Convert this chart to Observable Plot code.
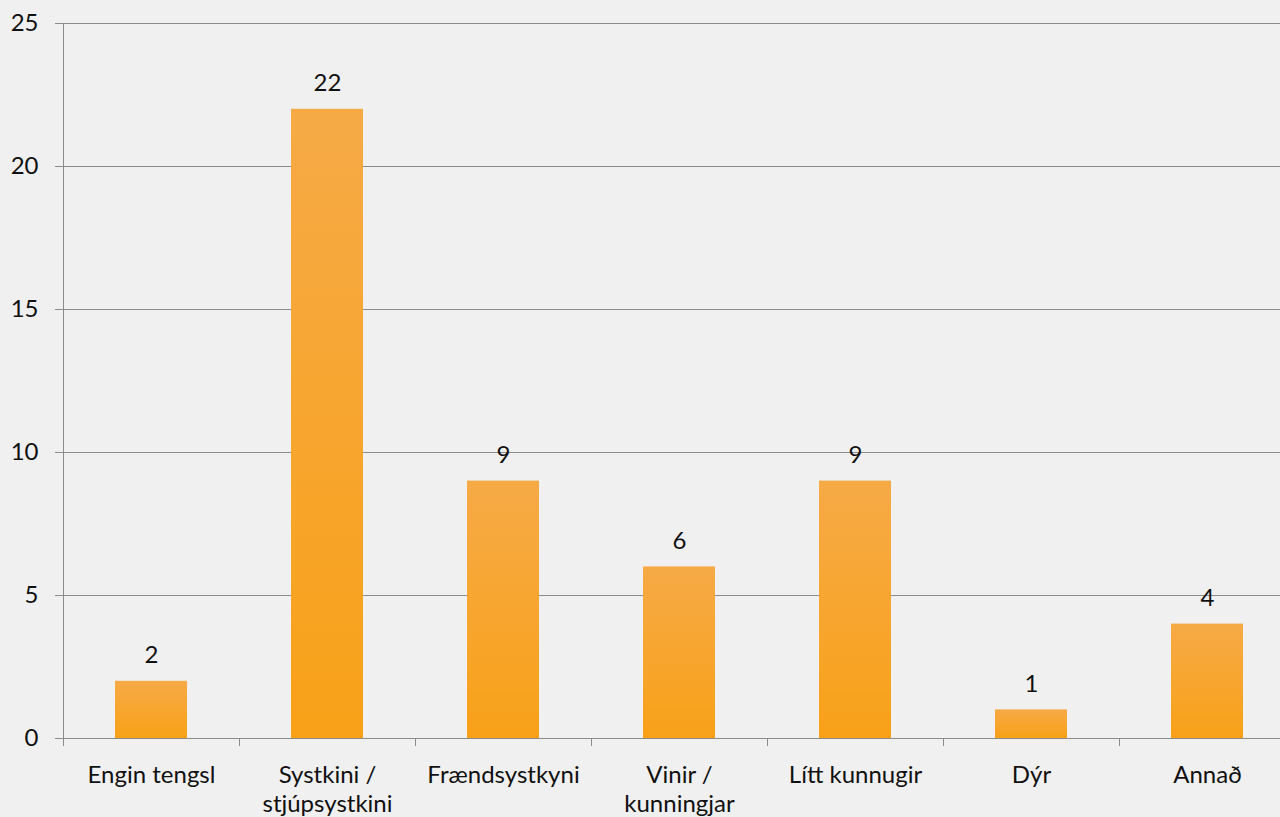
<!DOCTYPE html>
<html><head><meta charset="utf-8">
<script src="https://cdn.jsdelivr.net/npm/d3@7"></script>
<script src="https://cdn.jsdelivr.net/npm/@observablehq/plot@0.6"></script>
<style>
html,body{margin:0;padding:0;background:#f0f0f0;}
#chart svg{display:block;}
</style>
</head><body><div id="chart"></div>
<script>
const categories = ["Engin tengsl","Systkini / stjúpsystkini","Frændsystkyni","Vinir / kunningjar","Lítt kunnugir","Dýr","Annað"];
const tickLabels = ["Engin tengsl","Systkini /\nstjúpsystkini","Frændsystkyni","Vinir /\nkunningjar","Lítt kunnugir","Dýr","Annað"];
const values = [2,22,9,6,9,1,4];
const yTicks = [0,5,10,15,20,25];

const data = categories.map((c,i)=>({category:c, value:values[i]}));
const labelOf = new Map(categories.map((c,i)=>[c, tickLabels[i]]));
const lineColor = "#8c8c8c";
const font = "Lato, 'Open Sans', sans-serif";

function frameLines(index, scales) {
  const x = scales.x, y = scales.y;
  const step = x.step ? x.step() : (x(categories[1]) - x(categories[0]));
  const bw = x.bandwidth ? x.bandwidth() : 0;
  const half = (step - bw) / 2;
  const y0 = y(0), yTop = y(yTicks[yTicks.length-1]);
  const g = d3.create("svg:g").attr("stroke", lineColor).attr("stroke-width", 1).attr("shape-rendering","crispEdges");
  const left = x(categories[0]) - half;
  g.append("line").attr("x1", left).attr("x2", left).attr("y1", yTop).attr("y2", y0);
  categories.forEach(c => {
    const bx = x(c) - half;
    g.append("line").attr("x1", bx).attr("x2", bx).attr("y1", y0).attr("y2", y0 + 8);
  });
  return g.node();
}

const plot = Plot.plot({
  width: 1280,
  height: 817,
  marginLeft: 63,
  marginRight: 0,
  marginTop: 23,
  marginBottom: 79,
  style: {background: "#f0f0f0", fontFamily: font, fontSize: "24px", color: "#111"},
  x: {domain: categories, range: [63, 1295], paddingInner: 0.59, paddingOuter: 0.295, label: null},
  y: {domain: [0, 25], label: null},
  marks: [
    Plot.gridY(yTicks, {stroke: lineColor, strokeOpacity: 1, strokeWidth: 1}),
    Plot.barY(data, {x: "category", y: "value", fill: "url(#barGrad)"}),
    Plot.axisY(yTicks, {tickSize: 8, tickPadding: 17, stroke: lineColor, fill: "#111", fontSize: 24, label: null}),
    Plot.axisX({tickSize: 0, tickPadding: 25, tickFormat: d => labelOf.get(d), fill: "#111", fontSize: 24, lineHeight: 1.17, label: null}),
    Plot.text(data, {x: "category", y: "value", text: d => String(d.value), lineAnchor: "bottom", dy: -18, fill: "#111", fontSize: 24}),
    frameLines
  ]
});

const svg = d3.select(plot);
const defs = svg.insert("defs", ":first-child");
const grad = defs.append("linearGradient").attr("id", "barGrad").attr("x1", 0).attr("y1", 0).attr("x2", 0).attr("y2", 1);
grad.append("stop").attr("offset", "0%").attr("stop-color", "#f6aa46");
grad.append("stop").attr("offset", "100%").attr("stop-color", "#f8a118");

document.getElementById("chart").appendChild(plot);
</script>
</body></html>
